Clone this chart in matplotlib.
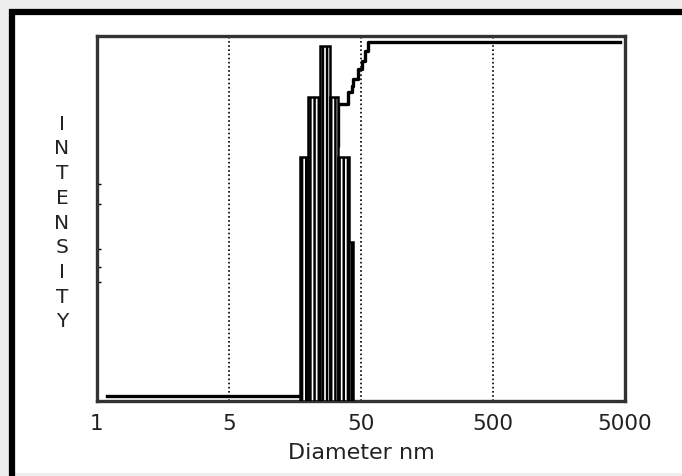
import matplotlib.pyplot as plt
import numpy as np
from matplotlib.patches import Rectangle
from matplotlib.lines import Line2D

# histogram bins (diameter, nm) and intensities
bin_edges = [17.3, 19.8, 24.5, 29.1, 33.5, 40.6, 43.5]
bin_heights = [66.8, 83.3, 97.3, 83.3, 66.8, 43.6]

# cumulative curve (step)
cum_d = [0.6, 17.3, 19.8, 24.5, 29.1, 33.5, 39.2, 39.9, 42.8, 43.5, 47.5, 50.9, 53.6, 56.5, 4585]
cum_v = [1.4, 1.4, 20.0, 45.0, 70.0, 81.4, 81.4, 84.7, 86.3, 88.2, 91.0, 93.2, 95.9, 98.4, 98.4]

tick_pos = [0.5, 5, 50, 500, 5000]
tick_labels = ["1", "5", "50", "500", "5000"]
grid_pos = [5, 50, 500]
minor_y = [59.5, 54.0, 41.6, 36.7, 32.6]

plt.rcParams["font.family"] = ["DejaVu Sans"]
plt.rcParams["hatch.linewidth"] = 1.8

fig = plt.figure(figsize=(6.82, 4.77), dpi=100, facecolor="#eeeeee")
W, H = 682, 477
# white panel with a heavy black border on top and left only
fig.patches.append(Rectangle((9 / W, 1 - 474 / H), 700 / W, 464 / H,
                             transform=fig.transFigure, facecolor="white",
                             edgecolor="none", zorder=-2))
fig.lines.append(Line2D([11.5 / W, 11.5 / W], [0, 1 - 10 / H], transform=fig.transFigure,
                        color="black", lw=4.5, solid_capstyle="butt", zorder=-1))
fig.lines.append(Line2D([9 / W, 1], [1 - 13 / H, 1 - 13 / H], transform=fig.transFigure,
                        color="black", lw=4.5, solid_capstyle="butt", zorder=-1))

ax = fig.add_axes([97 / W, 1 - 402 / H, 528 / W, 365 / H], zorder=2)
ax.set_xscale("log")
ax.set_xlim(0.5, 5000)
ax.set_ylim(0, 100)

for g in grid_pos:
    ax.axvline(g, color="black", lw=1.2, ls=(0, (1, 1.5)), zorder=1)

ax.step(cum_d, cum_v, where="post", color="black", lw=2.4, zorder=2)

edges = np.array(bin_edges)
ax.bar(edges[:-1], bin_heights, width=np.diff(edges), align="edge",
       facecolor="white", edgecolor="black", hatch="||||", lw=1.8, zorder=3)

ax.set_xticks(tick_pos)
ax.set_xticklabels(tick_labels)
ax.minorticks_off()
ax.tick_params(axis="x", length=0, pad=9, labelsize=15.5, labelcolor="#222222")
ax.set_yticks(minor_y)
ax.set_yticklabels([])
ax.tick_params(axis="y", direction="in", length=3, width=1)

for s in ax.spines.values():
    s.set_linewidth(2.4)
    s.set_color("#333333")

ax.set_xlabel("Diameter nm", fontsize=16, labelpad=6, color="#222222")
fig.text(62 / W, 1 - 223 / H, "\n".join("INTENSITY"), ha="center", va="center",
         fontsize=14.5, linespacing=1.38, color="#222222")

fig.savefig("out.png", dpi=100, facecolor=fig.get_facecolor())
